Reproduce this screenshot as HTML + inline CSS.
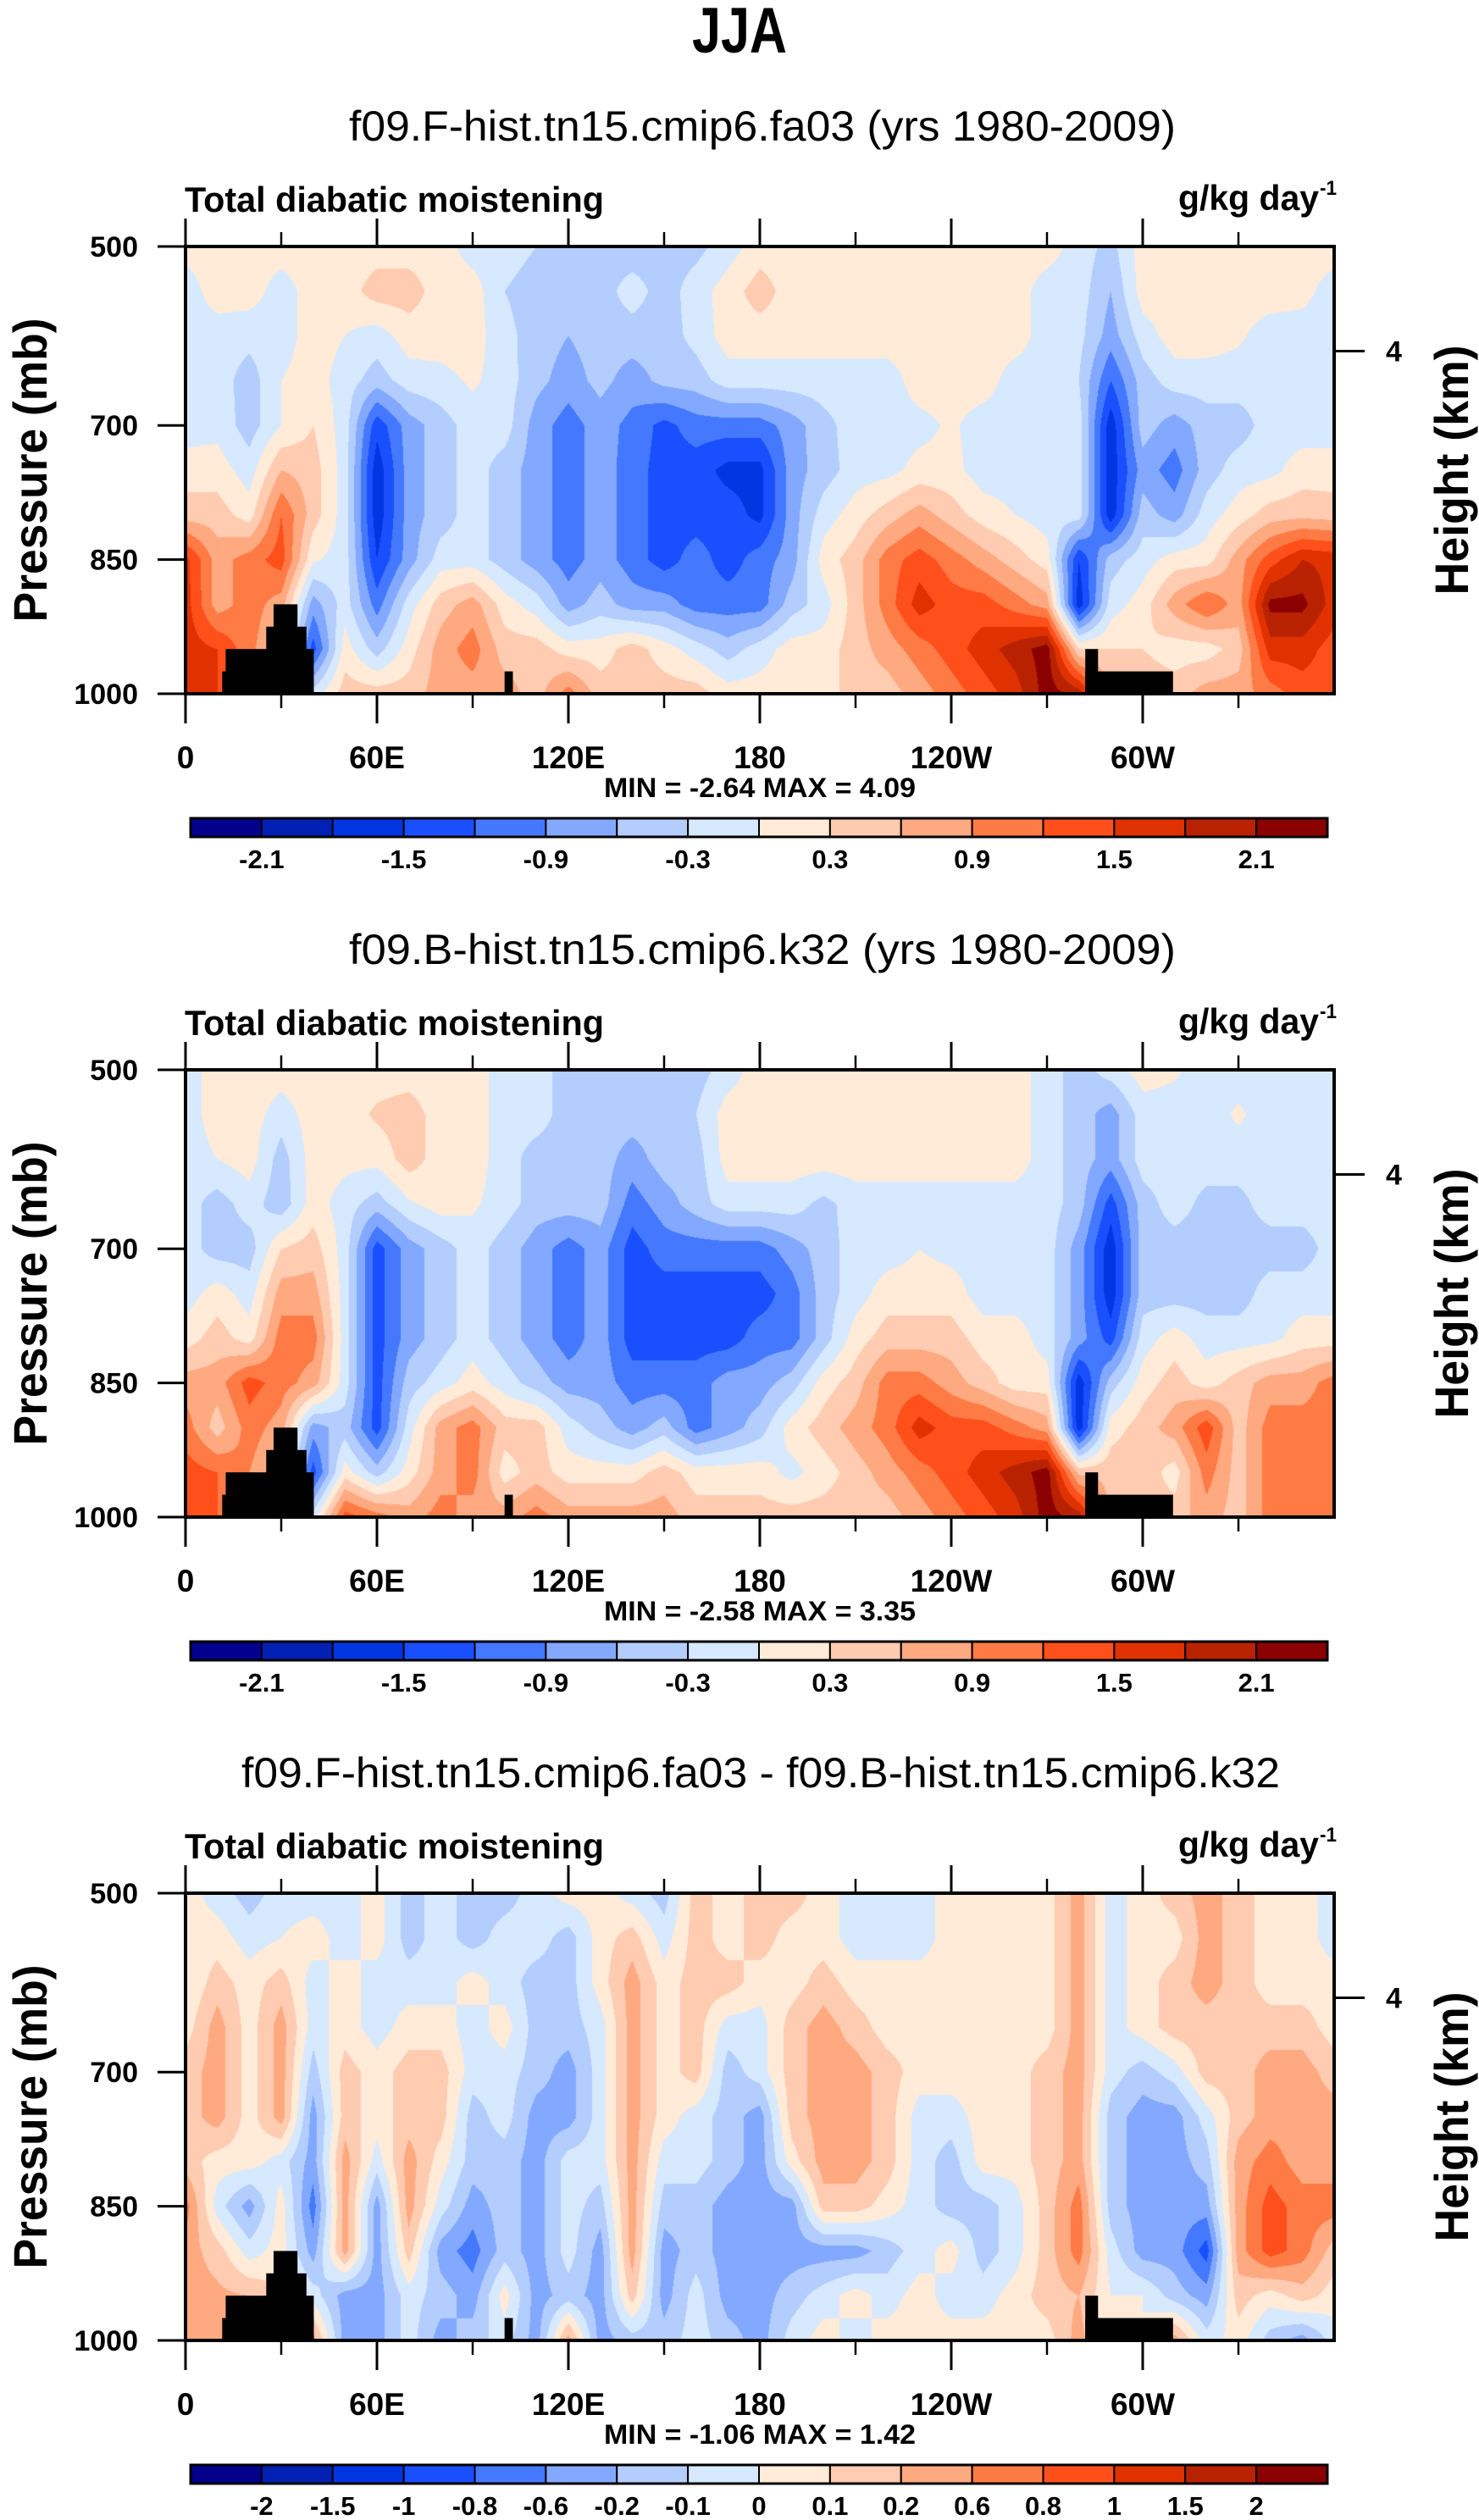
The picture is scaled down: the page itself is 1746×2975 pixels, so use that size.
<!DOCTYPE html>
<html><head><meta charset="utf-8">
<style>
html,body{margin:0;padding:0;background:#fff;}
#page{position:relative;width:1746px;height:2975px;overflow:hidden;background:#fff;font-family:"Liberation Sans",Arial,sans-serif;}
canvas{position:absolute;}
svg{position:absolute;left:0;top:0;font-family:"Liberation Sans",Arial,sans-serif;}
svg text{font-family:"Liberation Sans",Arial,sans-serif;}
</style></head>
<body>
<div id="page">
<canvas id="c0" width="1356" height="528" style="left:219px;top:291px"></canvas>
<canvas id="c1" width="1356" height="528" style="left:219px;top:1263px"></canvas>
<canvas id="c2" width="1356" height="528" style="left:219px;top:2235px"></canvas>
<svg id="ov" width="1746" height="2975" viewBox="0 0 1746 2975" font-family="Liberation Sans, Arial, sans-serif">
<text x="873" y="62" text-anchor="middle" font-weight="bold" font-size="76" textLength="112" lengthAdjust="spacingAndGlyphs">JJA</text>
<text x="900" y="166" text-anchor="middle" font-size="50" textLength="976" lengthAdjust="spacingAndGlyphs">f09.F-hist.tn15.cmip6.fa03 (yrs 1980-2009)</text>
<text x="900" y="1138" text-anchor="middle" font-size="50" textLength="976" lengthAdjust="spacingAndGlyphs">f09.B-hist.tn15.cmip6.k32 (yrs 1980-2009)</text>
<text x="898" y="2110" text-anchor="middle" font-size="50" textLength="1226" lengthAdjust="spacingAndGlyphs">f09.F-hist.tn15.cmip6.fa03 - f09.B-hist.tn15.cmip6.k32</text>
</svg>
</div>
<script>
// ---------- data ----------
const lonGrid = [0,10,20,30,40,50,60,70,80,90,100,110,120,130,140,150,160,170,180,190,200,210,220,230,240,250,260,270,280,290,300,310,320,330,340,350,360];
const presGrid = [500,550,600,650,700,750,800,850,900,950,1000];

const levels12 = [-2.1,-1.8,-1.5,-1.2,-0.9,-0.6,-0.3,0,0.3,0.6,0.9,1.2,1.5,1.8,2.1];
const labels12 = ["-2.1","-1.5","-0.9","-0.3","0.3","0.9","1.5","2.1"];
const labelIdx12 = [0,2,4,6,8,10,12,14];
const levels3 = [-2,-1.5,-1,-0.8,-0.6,-0.2,-0.1,0,0.1,0.2,0.6,0.8,1,1.5,2];
const labels3 = ["-2","-1.5","-1","-0.8","-0.6","-0.2","-0.1","0","0.1","0.2","0.6","0.8","1","1.5","2"];
const labelIdx3 = [0,1,2,3,4,5,6,7,8,9,10,11,12,13,14];
const palette = ["#02008c","#0021b4","#0035e2","#1a4fff","#4479ff","#82a9ff","#b4cdff","#d6e9ff","#ffebd8","#ffcbb1","#ffa981","#ff7b45","#ff501c","#e03200","#b92200","#8b0000"];

const minMax = ["MIN =  -2.64  MAX =   4.09","MIN =  -2.58  MAX =   3.35","MIN =  -1.06  MAX =   1.42"];

const panel1 = [
[0.1,0.15,0.15,0.15,0.15,0.15,0.15,0.15,0.15,-0.15,-0.15,-0.3,-0.45,-0.45,-0.5,-0.45,-0.4,-0.15,0.15,0.15,0.15,0.15,0.15,0.15,0.15,0.15,0.15,0.15,-0.15,-0.4,0.15,0.15,0.15,0.15,0.15,0.15,0.15],
[-0.15,0.15,0.15,-0.15,0.15,0.15,0.45,0.45,0.15,0.15,-0.3,-0.45,-0.45,-0.45,-0.15,-0.45,-0.15,0.15,0.45,0.15,0.15,0.15,0.15,0.15,0.15,0.15,0.15,-0.15,-0.15,-0.6,0.15,0.15,0.15,0.15,0.15,0.1,-0.15],
[-0.15,-0.15,-0.2,-0.15,0.15,0,-0.15,0.15,0.15,0.15,-0.2,-0.45,-0.6,-0.45,-0.45,-0.45,-0.2,0.15,0.15,0.15,0.15,0.15,0.15,0.15,0.15,0.15,0.15,-0.15,-0.2,-0.75,-0.15,0.15,0.15,0.05,-0.15,-0.15,-0.15],
[-0.15,-0.15,-0.45,0,0.15,-0.15,-0.45,-0.15,-0.1,0.05,-0.15,-0.5,-0.75,-0.5,-0.75,-0.5,-0.45,-0.15,-0.15,-0.15,-0.15,-0.15,-0.15,0.15,0.15,0.15,-0.15,-0.15,-0.3,-1.2,-0.45,-0.15,-0.15,-0.15,-0.15,-0.15,-0.15],
[-0.15,-0.1,-0.45,0,0.3,-0.15,-1.4,-0.75,-0.45,-0.15,-0.15,-0.75,-1.05,-0.75,-1.0,-1.3,-1.05,-1.05,-1.05,-0.75,-0.4,-0.15,-0.15,-0.1,0.05,-0.15,-0.15,-0.15,-0.15,-1.7,-0.45,-0.75,-0.45,-0.45,-0.15,-0.15,-0.15],
[0.15,0.15,-0.15,0.6,0.45,-0.15,-1.7,-0.75,-0.45,-0.15,-0.45,-0.75,-1.05,-0.75,-1.05,-1.35,-1.35,-1.6,-1.6,-0.75,-0.45,-0.15,-0.1,0.1,0.1,-0.15,-0.15,-0.15,-0.15,-1.7,-0.75,-1.05,-0.45,-0.15,-0.1,0.15,0.15],
[0.45,0.45,0.15,1.2,0.45,-0.15,-1.7,-0.75,-0.45,-0.15,-0.45,-0.75,-1.05,-0.75,-1.05,-1.35,-1.35,-1.35,-1.6,-0.75,-0.15,0.15,0.45,0.75,0.45,0.15,0,-0.15,-0.15,-1.7,-0.45,-0.75,-0.15,0.15,0.45,0.5,0.45],
[1.6,0.75,1.05,1.35,0.05,-0.15,-1.5,-0.75,-0.15,-0.15,-0.45,-0.75,-1.05,-0.75,-1.05,-1.35,-1.05,-1.35,-1.05,-0.75,0.15,0.45,1.05,1.35,1.05,0.75,0.45,0.15,-1.5,-0.45,-0.15,0.15,0.15,0.75,1.35,1.8,1.7],
[1.65,0.75,1.05,0.75,-0.75,-0.15,-1.05,-0.15,0.45,0.75,0.15,-0.15,-0.75,-0.45,-0.75,-0.75,-1.05,-1.05,-1.05,-0.45,-0.15,0.45,1.05,1.65,1.35,1.35,1.05,0.75,-1.7,-0.15,0.15,0.75,1.2,0.75,2.2,2.2,1.65],
[1.65,1.5,1.0,0.5,-1.35,0.15,-0.45,0.15,0.75,1.05,0.45,0.45,0.15,0.15,0.45,0.15,-0.15,-0.45,-0.15,0.15,0.15,0.45,0.75,1.05,1.35,1.65,1.95,2.25,0.3,0.3,0.3,0.15,0.15,0.45,1.65,1.65,1.35],
[1.65,1.5,1.0,0.5,-0.15,0.45,0.45,0.45,0.75,0.75,0.75,0.45,1.05,0.45,0.45,0.45,0.45,0.15,0.15,0.15,0.15,0.45,0.45,0.75,1.05,1.35,1.65,2.25,2.0,0.5,0.5,0.45,0.75,0.75,1.05,1.35,1.35]
];
const panel2 = [
[-0.15,0.15,0.15,0.15,0.15,0.15,0.15,0.15,0.15,0.15,-0.15,-0.15,-0.45,-0.45,-0.5,-0.45,-0.45,-0.15,0.15,0.15,0.15,0.15,0.15,0.15,0.15,0.15,0.15,-0.15,-0.45,-0.15,0.15,0.05,-0.15,-0.15,-0.15,-0.15,-0.15],
[-0.15,0.15,0.15,-0.15,0.15,0.15,0.35,0.45,0.15,0.15,-0.15,-0.15,-0.45,-0.45,-0.45,-0.45,-0.3,0.15,0.15,0.15,0.15,0.15,0.15,0.15,0.15,0.15,0.15,-0.15,-0.45,-0.75,-0.15,-0.15,-0.15,0.05,-0.15,-0.1,-0.15],
[-0.15,0,0.15,-0.45,0.15,0.1,0.1,0.45,0.15,0.15,-0.15,-0.45,-0.45,-0.45,-0.75,-0.45,-0.45,0.15,0.15,0.15,0.15,0.15,0.15,0.15,0.15,0.15,0.15,-0.15,-0.45,-0.75,-0.15,-0.15,-0.15,-0.15,-0.15,-0.15,-0.15],
[-0.15,-0.45,-0.15,-0.5,0.15,-0.15,-0.45,-0.05,0.15,0.05,-0.15,-0.45,-0.45,-0.45,-1.05,-0.75,-0.45,-0.15,-0.15,-0.15,-0.4,-0.15,-0.15,-0.15,-0.15,-0.15,-0.15,-0.15,-0.45,-1.35,-0.45,-0.15,-0.4,-0.4,-0.15,-0.15,-0.15],
[-0.15,-0.45,-0.45,0.3,0.45,-0.15,-1.35,-0.75,-0.45,-0.15,-0.45,-0.75,-1.05,-0.75,-1.35,-1.05,-1.05,-1.05,-1.05,-0.75,-0.45,-0.15,-0.15,0,-0.1,-0.15,-0.15,-0.15,-0.75,-1.7,-0.45,-0.45,-0.45,-0.45,-0.45,-0.45,-0.15],
[-0.15,0.15,-0.15,0.75,0.75,-0.15,-1.35,-0.75,-0.45,-0.15,-0.45,-0.75,-1.05,-0.75,-1.35,-1.35,-1.35,-1.35,-1.35,-1.05,-0.45,-0.15,0.15,0.15,0.15,-0.15,-0.15,-0.15,-0.75,-1.7,-0.45,-0.45,-0.45,-0.45,-0.15,-0.15,-0.15],
[0.15,0.45,0.15,1.05,1.05,-0.15,-1.35,-0.75,-0.45,-0.15,-0.45,-0.75,-1.05,-0.75,-1.35,-1.35,-1.35,-1.35,-1.05,-1.05,-0.45,0.15,0.45,0.45,0.45,0.15,0.15,-0.15,-0.75,-1.35,-0.15,0.15,-0.15,-0.15,-0.1,0.15,0.15],
[0.75,0.75,1.35,1.05,0.75,-0.15,-1.35,-0.45,-0.15,0.15,-0.15,-0.45,-0.75,-0.75,-1.05,-1.05,-1.05,-0.75,-0.75,-0.45,0.15,0.45,1.05,1.05,0.75,0.45,0.15,0.15,-1.7,-0.45,0.15,0.45,0.15,0.45,0.75,0.75,1.05],
[1.05,0.45,1.05,0.75,-0.75,-0.45,-1.35,-0.15,0.75,1.05,0.45,0.45,-0.15,-0.45,-0.75,-0.45,-1.05,-0.75,-0.45,0.15,0.45,0.75,1.05,1.65,1.35,1.35,1.05,0.75,-1.7,0.15,0.45,0.75,1.4,0.45,1.05,1.05,1.05],
[1.35,1.2,0.9,0.5,-1.35,0.15,-0.45,0.15,0.75,1.05,0.15,0.45,0.15,0.15,0.15,0.45,0.15,0.15,0.15,-0.1,0.15,0.45,0.75,1.05,1.35,1.65,1.95,2.25,0.5,0.5,0.5,0.15,1.05,0.45,1.05,1.05,1.05],
[1.35,1.2,0.9,0.5,-0.15,1.35,1.05,0.75,1.05,0.75,0.75,1.05,0.75,0.75,0.75,0.75,0.45,0.45,0.45,0.45,0.45,0.45,0.45,0.75,1.05,1.35,1.65,2.25,2.0,0.5,0.5,0.45,0.75,0.45,1.05,1.05,1.05]
];
const panel3 = [
[0.05,-0.05,-0.15,-0.05,-0.05,-0.05,0.05,-0.15,-0.05,-0.15,-0.15,-0.05,0.05,0.05,-0.05,-0.15,0.15,0.05,0.15,0.15,0.05,-0.05,-0.05,-0.05,0.05,0.05,0.05,0.05,0.4,-0.05,0.05,0.15,0.4,0.15,0.05,0.05,-0.05],
[0.05,0.05,-0.05,0,0.05,-0.05,0.05,-0.15,-0.05,-0.15,-0.05,-0.05,-0.15,0.05,0.15,-0.05,0.15,0.05,0.15,0.05,0.05,-0.05,-0.05,-0.05,0.05,0.05,0.05,0.05,0.4,-0.05,0.05,0.05,0.4,0.15,0.05,0.05,-0.05],
[0,0.15,0.05,0.15,-0.05,0.05,-0.05,-0.05,-0.05,0.05,-0.05,-0.15,-0.15,0.05,0.4,0.05,0.15,0.15,0.05,0.05,0.15,0.05,0.05,0.05,0.05,0.05,0.05,0.05,0.4,-0.05,0.05,0.15,0.4,0.15,0.05,0.05,0.05],
[0.05,0.4,0.05,0.4,-0.05,0.05,-0.05,0.05,0.05,-0.05,0.05,-0.15,-0.15,-0.05,0.4,0.05,0.15,-0.05,-0.05,0.15,0.4,0.15,0.05,0.05,0.05,0.05,0.05,0.05,0.4,-0.05,0.05,0.15,0.15,0.15,0.15,0.15,0.05],
[0.15,0.4,0.05,0.4,-0.15,0.15,0.05,0.15,0.15,-0.05,-0.05,-0.15,-0.4,-0.05,0.4,0.05,0.15,-0.15,-0.05,0.15,0.4,0.4,0.15,0.05,0.05,0.05,0.05,0.15,0.4,-0.05,-0.15,-0.05,0.15,0.15,0.4,0.4,0.15],
[0.15,0.4,0.05,0.4,-0.4,0.15,0.05,0.15,0.15,-0.15,-0.05,-0.4,-0.4,-0.05,0.4,0.05,-0.05,-0.15,-0.4,0.15,0.4,0.4,0.15,-0.05,-0.05,0.05,0.05,0.15,0.4,-0.15,-0.4,-0.4,-0.05,0.15,0.4,0.4,0.4],
[0.15,0.05,0.05,-0.05,-0.4,0.4,-0.05,0.4,0.05,-0.15,-0.15,-0.4,-0.05,-0.05,0.4,-0.05,-0.05,-0.15,-0.4,0.05,0.4,0.4,0.15,-0.05,-0.15,0.05,0.05,0.15,0.4,-0.15,-0.4,-0.4,-0.15,0.4,0.7,0.4,0.4],
[0.7,-0.05,-0.4,0.05,-0.7,0.4,-0.4,0.4,-0.05,-0.4,-0.15,-0.4,-0.05,-0.15,0.4,-0.15,-0.15,-0.4,-0.4,-0.4,0.15,0.15,0.05,-0.05,-0.15,-0.15,-0.05,0.15,0.7,-0.15,-0.4,-0.4,-0.4,0.4,0.9,0.7,0.7],
[0.4,0.15,-0.05,0.05,-0.4,0.4,-0.4,0.15,-0.4,-0.7,-0.15,-0.4,-0.05,-0.4,0.4,-0.4,-0.15,-0.4,-0.4,-0.4,-0.4,-0.4,-0.15,-0.05,0.05,-0.15,-0.05,0.15,0.7,-0.05,-0.4,-0.4,-0.9,0.4,0.9,0.7,0.15],
[0.4,0.3,0.2,0.1,-0.05,-0.4,-0.4,-0.05,-0.15,-0.4,0.05,-0.4,-0.15,-0.4,0.15,-0.4,-0.05,-0.4,-0.4,-0.15,-0.05,0.05,-0.05,0.05,-0.05,-0.05,0.05,0.15,0.2,0,0,-0.15,-0.4,0.15,0.05,0.15,0.05],
[0.4,0.3,0.2,0.1,0.4,-0.4,-0.4,-0.05,-0.4,-0.15,-0.05,-0.4,0.4,-0.4,-0.15,-0.15,-0.05,-0.15,-0.4,-0.05,0.05,-0.05,0.05,0.05,0.05,0.05,0.05,0.05,0.4,0,0,0.4,-0.05,0.05,-0.15,-0.4,-0.05]
];

// topography blocks: [lonStart, lonEnd, topPressure]
const topoLon0 = [11.5,12.6,25.3,27.6,100,282,282];
const topoLon1 = [40.2,40.2,37.9,35.1,102.6,309.5,286];
const topoTop  = [975,950,925,900,975,975,950];

const xTickLons = [0,60,120,180,240,300];
const xTickLabels = ["0","60E","120E","180","120W","60W"];
const xMinorLons = [30,90,150,210,270,330];
const yTickP = [500,700,850,1000];
const yTickLabels = ["500","700","850","1000"];
const heightTickP = [617];
const heightTickLabels = ["4"];

// ---------- geometry ----------
const X0=219, W=1356, Y0=291, H=528, DY=972;
function lonX(lon){return X0+lon/360*W;}
function pY(p,k){return Y0+k*DY+(p-500)/500*H;}

function contIdx(v,lv){
  if(v<lv[0]) return 1+(v-lv[0])/(lv[1]-lv[0]);
  for(let k=0;k<lv.length-1;k++){ if(v<lv[k+1]) return k+1+(v-lv[k])/(lv[k+1]-lv[k]); }
  const n=lv.length; return n+(v-lv[n-1])/(lv[n-1]-lv[n-2]);
}
function hexRgb(h){return [parseInt(h.substr(1,2),16),parseInt(h.substr(3,2),16),parseInt(h.substr(5,2),16)];}
const rgb = palette.map(hexRgb);

function drawField(cid, data, lv){
  const cv=document.getElementById(cid), ctx=cv.getContext('2d');
  const nr=presGrid.length, nc=lonGrid.length;
  const idx=data.map(r=>r.map(v=>contIdx(v,lv)));
  const img=ctx.createImageData(W,H), d=img.data;
  for(let py=0;py<H;py++){
    const p=500+(py+0.5)/H*500;
    let fr=(p-presGrid[0])/(presGrid[1]-presGrid[0]); let r0=Math.min(Math.floor(fr),nr-2); const ty=fr-r0;
    for(let px=0;px<W;px++){
      const lon=(px+0.5)/W*360;
      let fc=(lon-lonGrid[0])/(lonGrid[1]-lonGrid[0]); let c0=Math.min(Math.floor(fc),nc-2); const tx=fc-c0;
      const v=(idx[r0][c0]*(1-tx)+idx[r0][c0+1]*tx)*(1-ty)+(idx[r0+1][c0]*(1-tx)+idx[r0+1][c0+1]*tx)*ty;
      let cls=Math.floor(v); if(cls<0)cls=0; if(cls>15)cls=15;
      const o=(py*W+px)*4, c=rgb[cls];
      d[o]=c[0];d[o+1]=c[1];d[o+2]=c[2];d[o+3]=255;
    }
  }
  ctx.putImageData(img,0,0);
}
drawField('c0',panel1,levels12);
drawField('c1',panel2,levels12);
drawField('c2',panel3,levels3);

// ---------- SVG overlay ----------
const NS="http://www.w3.org/2000/svg";
const svg=document.getElementById('ov');
function mk(tag,attrs,parent){const e=document.createElementNS(NS,tag);for(const k in attrs)e.setAttribute(k,attrs[k]);(parent||svg).appendChild(e);return e;}

for(let k=0;k<3;k++){
  const g=mk('g',{});
  
  
  const top=pY(500,k), bot=pY(1000,k);
  for(let i=0;i<topoTop.length;i++){
    const r=mk('rect',{x:lonX(topoLon0[i]),y:pY(topoTop[i],k),width:lonX(topoLon1[i])-lonX(topoLon0[i]),height:bot-pY(topoTop[i],k),fill:'#000'},g);
    
    
  }
  const fr=mk('rect',{x:X0,y:top,width:W,height:H,fill:'none',stroke:'#000','stroke-width':4},g);
  
  
  for(let i=0;i<xTickLons.length;i++){
    const x=lonX(xTickLons[i]);
    mk('line',{x1:x,y1:top,x2:x,y2:top-33,stroke:'#000','stroke-width':3},g);
    mk('line',{x1:x,y1:bot,x2:x,y2:bot+35,stroke:'#000','stroke-width':3},g);
    const t=mk('text',{x:x,y:bot+88,'text-anchor':'middle','font-weight':'bold','font-size':37},g);
    t.textContent=xTickLabels[i];
    
    
  }
  for(let i=0;i<xMinorLons.length;i++){
    const x=lonX(xMinorLons[i]);
    mk('line',{x1:x,y1:top,x2:x,y2:top-17,stroke:'#000','stroke-width':2.5},g);
    mk('line',{x1:x,y1:bot,x2:x,y2:bot+17,stroke:'#000','stroke-width':2.5},g);
  }
  for(let i=0;i<yTickP.length;i++){
    const y=pY(yTickP[i],k);
    mk('line',{x1:X0,y1:y,x2:186,y2:y,stroke:'#000','stroke-width':3},g);
    const t=mk('text',{x:163,y:y+12,'text-anchor':'end','font-weight':'bold','font-size':34},g);
    t.textContent=yTickLabels[i];
    
    
  }
  for(let i=0;i<heightTickP.length;i++){
    const y=pY(heightTickP[i],k);
    mk('line',{x1:X0+W,y1:y,x2:1611,y2:y,stroke:'#000','stroke-width':3},g);
    const t=mk('text',{x:1636,y:y+12,'font-weight':'bold','font-size':34},g);
    t.textContent=heightTickLabels[i];
    
    
  }
  const yt=mk('text',{x:0,y:0,transform:'translate(55,'+(top+H/2)+') rotate(-90)','text-anchor':'middle','font-weight':'bold','font-size':56,textLength:359,lengthAdjust:'spacingAndGlyphs'},g);
  yt.textContent='Pressure (mb)';
  
  
  const ht=mk('text',{x:0,y:0,transform:'translate(1733,'+(top+H/2)+') rotate(-90)','text-anchor':'middle','font-weight':'bold','font-size':56,textLength:295,lengthAdjust:'spacingAndGlyphs'},g);
  ht.textContent='Height (km)';
  
  
  const lt=mk('text',{x:218,y:top-41,'font-weight':'bold','font-size':42,textLength:495,lengthAdjust:'spacingAndGlyphs'},g);
  lt.textContent='Total diabatic moistening';
  
  
  const ut=mk('text',{x:1391,y:top-43,'font-weight':'bold','font-size':42,textLength:166,lengthAdjust:'spacingAndGlyphs'},g);
  ut.textContent='g/kg day';
  
  
  const us=mk('text',{x:1558,y:top-61,'font-weight':'bold','font-size':24,textLength:20,lengthAdjust:'spacingAndGlyphs'},g);
  us.textContent='-1';
  
  
  const mm=mk('text',{x:713,y:bot+122,'font-weight':'bold','font-size':32,textLength:368,lengthAdjust:'spacingAndGlyphs','xml:space':'preserve'},g);
  mm.textContent=minMax[k];
  
  
  const lv = k<2?levels12:levels3, labs=k<2?labels12:labels3, li=k<2?labelIdx12:labelIdx3;
  const cbX=225, cbW=1342, cbY=966+k*DY, cbH=22, n=palette.length, cw=cbW/n;
  for(let i=0;i<n;i++){
    const r=mk('rect',{x:cbX+i*cw,y:cbY,width:cw,height:cbH,fill:palette[i],stroke:'#000','stroke-width':2},g);
    
    
  }
  mk('rect',{x:cbX,y:cbY,width:cbW,height:cbH,fill:'none',stroke:'#000','stroke-width':3},g);
  for(let j=0;j<labs.length;j++){
    const t=mk('text',{x:cbX+(li[j]+1)*cw,y:cbY+59,'text-anchor':'middle','font-weight':'bold','font-size':31},g);
    t.textContent=labs[j];
    
    
  }
}
</script>
</body></html>
